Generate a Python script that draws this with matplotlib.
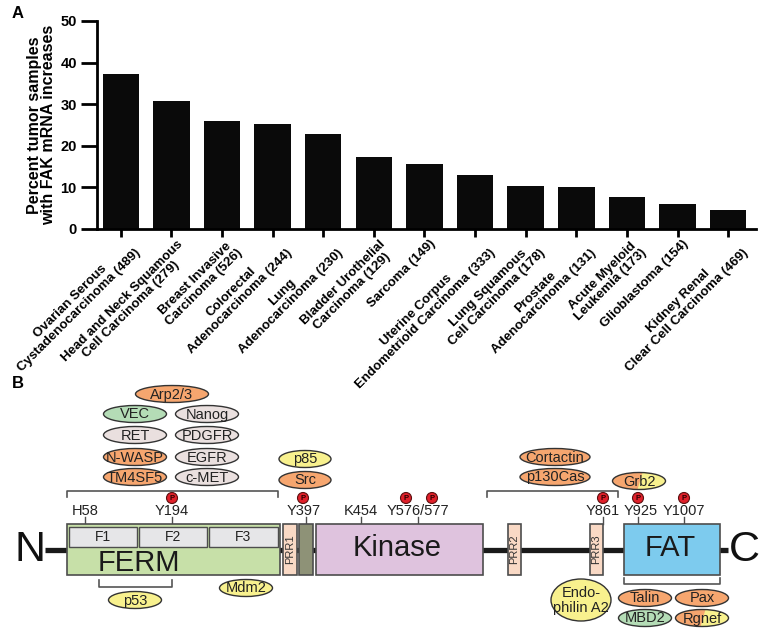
import matplotlib
matplotlib.use('Agg')
import matplotlib.pyplot as plt
from matplotlib.patches import Ellipse, Rectangle, Circle, Polygon
from matplotlib.transforms import ScaledTranslation

plt.rcParams['font.family'] = ['Liberation Sans', 'DejaVu Sans']

# ---- panel A data
tumors = ['Ovarian Serous\nCystadenocarcinoma (489)',
          'Head and Neck Squamous\nCell Carcinoma (279)',
          'Breast Invasive\nCarcinoma (526)',
          'Colorectal\nAdenocarcinoma (244)',
          'Lung\nAdenocarcinoma (230)',
          'Bladder Urothelial\nCarcinoma (129)',
          'Sarcoma (149)',
          'Uterine Corpus\nEndometrioid Carcinoma (333)',
          'Lung Squamous\nCell Carcinoma (178)',
          'Prostate\nAdenocarcinoma (131)',
          'Acute Myeloid\nLeukemia (173)',
          'Glioblastoma (154)',
          'Kidney Renal\nClear Cell Carcinoma (469)']
pct = [37.3, 30.8, 25.9, 25.2, 22.8, 17.2, 15.6, 13.1, 10.3, 10.0, 7.6, 5.9, 4.6]

# ---- panel B data (diagram, pixel layout)
ORANGE = '#f6a66f'
GREEN = '#b4dcb6'
GREY = '#eae0df'
YELLOW = '#f8f18e'
PEACH = '#f9d9c5'

domains = [  # name, x0, x1, colour, fontsize, rotated
    ('FERM', 67, 280, '#c7e0a8', 21, False),
    ('PRR1', 283, 297, PEACH, 8, True),
    ('', 299, 313, '#8e9277', 8, True),
    ('Kinase', 316, 483, '#dfc3de', 21, False),
    ('PRR2', 508, 521, PEACH, 8, True),
    ('PRR3', 590, 603, PEACH, 8, True),
    ('FAT', 624, 720, '#7dcbee', 21, False),
]
subdomains = [('F1', 69, 137), ('F2', 139, 207), ('F3', 209, 278)]

residues = [('H58', 85), ('Y194', 172), ('Y397', 304), ('K454', 361),
            ('Y576/577', 418), ('Y861', 603), ('Y925', 641), ('Y1007', 684)]
residue_ticks = [85, 172, 306, 361, 418, 603, 638, 684]
phospho = [172, 303, 406, 432, 603, 638, 684]

partners = [  # label, cx, cy, w, h, colour
    ('Arp2/3', 172, 394, 73, 17, ORANGE),
    ('VEC', 135, 414, 63, 17, GREEN), ('Nanog', 207, 414, 63, 17, GREY),
    ('RET', 135, 435, 63, 17, GREY), ('PDGFR', 207, 435, 63, 17, GREY),
    ('N-WASP', 135, 457, 63, 17, ORANGE), ('EGFR', 207, 457, 63, 17, GREY),
    ('TM4SF5', 135, 477, 63, 17, ORANGE), ('c-MET', 207, 477, 63, 17, GREY),
    ('p85', 305, 459, 52, 17, YELLOW), ('Src', 305, 480, 52, 17, ORANGE),
    ('Cortactin', 555, 457, 70, 17, ORANGE), ('p130Cas', 555, 477, 70, 17, ORANGE),
    ('p53', 135, 600, 53, 17, YELLOW), ('Mdm2', 246, 588, 53, 17, YELLOW),
    ('Endo-\nphilin A2', 581, 600, 60, 42, YELLOW),
    ('Talin', 645, 598, 53, 17, ORANGE), ('Pax', 702, 598, 53, 17, ORANGE),
    ('MBD2', 645, 618, 53, 17, GREEN),
]
split_partners = [('Grb2', 639, 481, 53, 17), ('Rgnef', 702, 618, 53, 17)]

brackets = [  # x0, x1, y, direction of the end ticks
    (67, 278, 491, 6), (487, 618, 491, 6), (99, 172, 587, -7), (624, 720, 584, -6)]

# ---- figure
fig = plt.figure(figsize=(7.62, 6.35), dpi=100)

ax = fig.add_axes([97 / 762, 1 - 229 / 635, (756 - 97) / 762, 208 / 635])
xs = list(range(len(tumors)))
ax.bar(xs, pct, width=0.72, color='#0a0a0a')
ax.set_xlim(-0.47, 12.55)
ax.set_ylim(0, 50)
ax.set_yticks(range(0, 51, 10))
ax.set_xticks(xs)
ax.set_xticklabels([])
# rotated category labels, nudged like the original
shift = ScaledTranslation(5 / 100, -9 / 100, fig.dpi_scale_trans)
for i, name in zip(xs, tumors):
    ax.text(i, 0, name, transform=ax.get_xaxis_transform() + shift, rotation=45,
            ha='right', va='top', rotation_mode='anchor', fontsize=9.5,
            fontweight='bold', multialignment='center', linespacing=1.05)
for lab in ax.get_yticklabels():
    lab.set_fontweight('bold')
    lab.set_fontsize(10.5)
for s in ['top', 'right']:
    ax.spines[s].set_visible(False)
for s in ['left', 'bottom']:
    ax.spines[s].set_linewidth(2)
ax.tick_params(axis='y', direction='out', length=11.5, width=2, pad=3)
ax.tick_params(axis='x', direction='out', length=5.5, width=2, pad=3)
ax.set_ylabel('Percent tumor samples\nwith FAK mRNA increases', fontsize=11.5,
              fontweight='bold', labelpad=3, linespacing=0.92)

fig.text(12 / 762, 1 - 14 / 635, 'A', fontsize=12, fontweight='bold', va='center')
fig.text(12 / 762, 1 - 383 / 635, 'B', fontsize=12, fontweight='bold', va='center')

# ---- panel B
bx = fig.add_axes([0, 0, 1, 1])
bx.set_xlim(0, 762)
bx.set_ylim(635, 0)
bx.axis('off')
bx.patch.set_visible(False)

EDGE = '#4d4d4d'
bx.plot([45, 728], [550, 550], color='#1a1a1a', lw=3.8, solid_capstyle='butt', zorder=1)
bx.text(30, 550, 'N', fontsize=31, ha='center', va='center', color='#111')
bx.text(744, 550, 'C', fontsize=31, ha='center', va='center', color='#111')

for name, x0, x1, col, fs, rot in domains:
    bx.add_patch(Rectangle((x0, 524), x1 - x0, 51, facecolor=col, edgecolor=EDGE,
                           lw=1.2, zorder=2))
    if name:
        if rot:
            bx.text((x0 + x1) / 2, 549.5, name, fontsize=fs, rotation=90, ha='center',
                    va='center', color='#333', zorder=3)
        elif name == 'FERM':
            bx.text((x0 + x1) / 2 - 35, 563, name, fontsize=fs, ha='center',
                    va='center', color='#1a1a1a', zorder=3)
        else:
            bx.text((x0 + x1) / 2 - 2, 548, name, fontsize=fs, ha='center',
                    va='center', color='#1a1a1a', zorder=3)

for name, x0, x1 in subdomains:
    bx.add_patch(Rectangle((x0, 527), x1 - x0, 20, facecolor='#e6e6e8',
                           edgecolor=EDGE, lw=1, zorder=3))
    bx.text((x0 + x1) / 2, 537, name, fontsize=10, ha='center', va='center',
            color='#222', zorder=4)

for name, xc in residues:
    bx.text(xc, 511, name, fontsize=10.5, ha='center', va='center', color='#222')
for xc in residue_ticks:
    bx.plot([xc, xc], [517, 524], color=EDGE, lw=1, zorder=1)

for xc in phospho:
    bx.add_patch(Circle((xc, 498), 5.5, facecolor='#e0202a', edgecolor='#5a1010',
                        lw=0.8, zorder=3))
    bx.text(xc, 498.5, 'P', fontsize=5.5, fontweight='bold', ha='center',
            va='center', color='#2a0000', zorder=4)

for x0, x1, y, d in brackets:
    bx.plot([x0, x0, x1, x1], [y + d, y, y, y + d], color='#555', lw=1.2)

for label, cx, cy, w, h, col in partners:
    bx.add_patch(Ellipse((cx, cy), w, h, facecolor=col, edgecolor='#333', lw=1))
    bx.text(cx, cy + 0.5, label, fontsize=10.5, ha='center', va='center',
            color='#222', linespacing=1.15)

for label, cx, cy, w, h in split_partners:
    e = Ellipse((cx, cy), w, h, facecolor=YELLOW, edgecolor='none')
    bx.add_patch(e)
    half = Polygon([(cx - w, cy - h), (cx + 6, cy - h), (cx - 4, cy + h), (cx - w, cy + h)],
                   facecolor=ORANGE, edgecolor='none')
    bx.add_patch(half)
    half.set_clip_path(e)
    bx.add_patch(Ellipse((cx, cy), w, h, facecolor='none', edgecolor='#333', lw=1))
    bx.text(cx, cy + 0.5, label, fontsize=10.5, ha='center', va='center', color='#222')

fig.savefig('out.png', dpi=100)
